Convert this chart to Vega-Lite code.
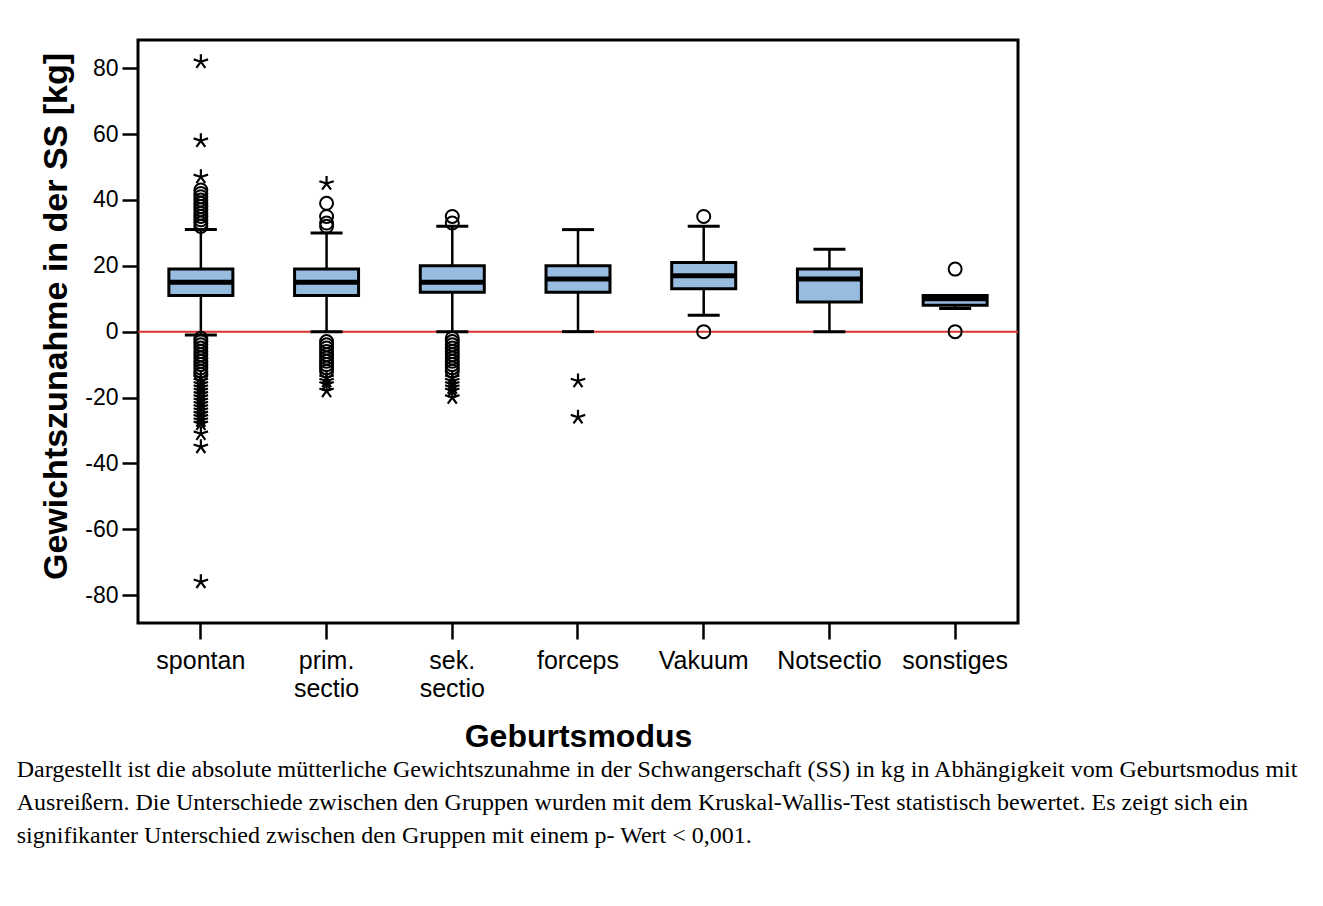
{
  "$schema": "https://vega.github.io/schema/vega-lite/v6.json",
  "autosize": {"type": "none"},
  "width": 880,
  "height": 583,
  "padding": {"left": 138, "top": 40, "right": 305, "bottom": 283},
  "background": "white",
  "config": {
    "view": {"stroke": "black", "strokeWidth": 3},
    "font": "Liberation Sans"
  },
  "title": {
    "text": [
      "Dargestellt ist die absolute mütterliche Gewichtszunahme in der Schwangerschaft (SS) in kg in Abhängigkeit vom Geburtsmodus mit",
      "Ausreißern. Die Unterschiede zwischen den Gruppen wurden mit dem Kruskal-Wallis-Test statistisch bewertet. Es zeigt sich ein",
      "signifikanter Unterschied zwischen den Gruppen mit einem p- Wert < 0,001."
    ],
    "orient": "bottom",
    "anchor": "start",
    "frame": "bounds",
    "font": "Liberation Serif",
    "fontSize": 24,
    "fontWeight": "normal",
    "color": "black",
    "lineHeight": 33,
    "offset": 6,
    "dx": -23
  },
  "datasets": {
    "boxes": [
      {"modus": "spontan", "lo": -1, "q1": 11, "median": 15, "q3": 19, "hi": 31},
      {"modus": "prim. sectio", "lo": 0, "q1": 11, "median": 15, "q3": 19, "hi": 30},
      {"modus": "sek. sectio", "lo": 0, "q1": 12, "median": 15, "q3": 20, "hi": 32},
      {"modus": "forceps", "lo": 0, "q1": 12, "median": 16, "q3": 20, "hi": 31},
      {"modus": "Vakuum", "lo": 5, "q1": 13, "median": 17, "q3": 21, "hi": 32},
      {"modus": "Notsectio", "lo": 0, "q1": 9, "median": 16, "q3": 19, "hi": 25},
      {"modus": "sonstiges", "lo": 7, "q1": 8, "median": 10, "q3": 11, "hi": 11}
    ],
    "outliers": [
      {"modus": "spontan", "value": 32, "kind": "circle"},
      {"modus": "spontan", "value": 33, "kind": "circle"},
      {"modus": "spontan", "value": 34, "kind": "circle"},
      {"modus": "spontan", "value": 35, "kind": "circle"},
      {"modus": "spontan", "value": 36, "kind": "circle"},
      {"modus": "spontan", "value": 37, "kind": "circle"},
      {"modus": "spontan", "value": 38, "kind": "circle"},
      {"modus": "spontan", "value": 39, "kind": "circle"},
      {"modus": "spontan", "value": 40, "kind": "circle"},
      {"modus": "spontan", "value": 41, "kind": "circle"},
      {"modus": "spontan", "value": 42, "kind": "circle"},
      {"modus": "spontan", "value": 43, "kind": "circle"},
      {"modus": "spontan", "value": 47, "kind": "star"},
      {"modus": "spontan", "value": 58, "kind": "star"},
      {"modus": "spontan", "value": 82, "kind": "star"},
      {"modus": "spontan", "value": -2, "kind": "circle"},
      {"modus": "spontan", "value": -3, "kind": "circle"},
      {"modus": "spontan", "value": -4, "kind": "circle"},
      {"modus": "spontan", "value": -5, "kind": "circle"},
      {"modus": "spontan", "value": -6, "kind": "circle"},
      {"modus": "spontan", "value": -7, "kind": "circle"},
      {"modus": "spontan", "value": -8, "kind": "circle"},
      {"modus": "spontan", "value": -9, "kind": "circle"},
      {"modus": "spontan", "value": -10, "kind": "circle"},
      {"modus": "spontan", "value": -11, "kind": "circle"},
      {"modus": "spontan", "value": -12, "kind": "circle"},
      {"modus": "spontan", "value": -13, "kind": "circle"},
      {"modus": "spontan", "value": -14, "kind": "star"},
      {"modus": "spontan", "value": -15, "kind": "star"},
      {"modus": "spontan", "value": -16, "kind": "star"},
      {"modus": "spontan", "value": -17, "kind": "star"},
      {"modus": "spontan", "value": -18, "kind": "star"},
      {"modus": "spontan", "value": -19, "kind": "star"},
      {"modus": "spontan", "value": -20, "kind": "star"},
      {"modus": "spontan", "value": -21, "kind": "star"},
      {"modus": "spontan", "value": -22, "kind": "star"},
      {"modus": "spontan", "value": -23, "kind": "star"},
      {"modus": "spontan", "value": -24, "kind": "star"},
      {"modus": "spontan", "value": -25, "kind": "star"},
      {"modus": "spontan", "value": -26, "kind": "star"},
      {"modus": "spontan", "value": -27, "kind": "star"},
      {"modus": "spontan", "value": -28, "kind": "star"},
      {"modus": "spontan", "value": -31, "kind": "star"},
      {"modus": "spontan", "value": -35, "kind": "star"},
      {"modus": "spontan", "value": -76, "kind": "star"},
      {"modus": "prim. sectio", "value": 32, "kind": "circle"},
      {"modus": "prim. sectio", "value": 33, "kind": "circle"},
      {"modus": "prim. sectio", "value": 35, "kind": "circle"},
      {"modus": "prim. sectio", "value": 39, "kind": "circle"},
      {"modus": "prim. sectio", "value": 45, "kind": "star"},
      {"modus": "prim. sectio", "value": -3, "kind": "circle"},
      {"modus": "prim. sectio", "value": -4, "kind": "circle"},
      {"modus": "prim. sectio", "value": -5, "kind": "circle"},
      {"modus": "prim. sectio", "value": -6, "kind": "circle"},
      {"modus": "prim. sectio", "value": -7, "kind": "circle"},
      {"modus": "prim. sectio", "value": -8, "kind": "circle"},
      {"modus": "prim. sectio", "value": -9, "kind": "circle"},
      {"modus": "prim. sectio", "value": -10, "kind": "circle"},
      {"modus": "prim. sectio", "value": -11, "kind": "circle"},
      {"modus": "prim. sectio", "value": -12, "kind": "circle"},
      {"modus": "prim. sectio", "value": -14, "kind": "star"},
      {"modus": "prim. sectio", "value": -15, "kind": "star"},
      {"modus": "prim. sectio", "value": -16, "kind": "star"},
      {"modus": "prim. sectio", "value": -18, "kind": "star"},
      {"modus": "sek. sectio", "value": 33, "kind": "circle"},
      {"modus": "sek. sectio", "value": 35, "kind": "circle"},
      {"modus": "sek. sectio", "value": -2, "kind": "circle"},
      {"modus": "sek. sectio", "value": -3, "kind": "circle"},
      {"modus": "sek. sectio", "value": -4, "kind": "circle"},
      {"modus": "sek. sectio", "value": -5, "kind": "circle"},
      {"modus": "sek. sectio", "value": -6, "kind": "circle"},
      {"modus": "sek. sectio", "value": -7, "kind": "circle"},
      {"modus": "sek. sectio", "value": -8, "kind": "circle"},
      {"modus": "sek. sectio", "value": -9, "kind": "circle"},
      {"modus": "sek. sectio", "value": -10, "kind": "circle"},
      {"modus": "sek. sectio", "value": -11, "kind": "circle"},
      {"modus": "sek. sectio", "value": -12, "kind": "circle"},
      {"modus": "sek. sectio", "value": -14, "kind": "star"},
      {"modus": "sek. sectio", "value": -15, "kind": "star"},
      {"modus": "sek. sectio", "value": -16, "kind": "star"},
      {"modus": "sek. sectio", "value": -17, "kind": "star"},
      {"modus": "sek. sectio", "value": -18, "kind": "star"},
      {"modus": "sek. sectio", "value": -20, "kind": "star"},
      {"modus": "forceps", "value": -15, "kind": "star"},
      {"modus": "forceps", "value": -26, "kind": "star"},
      {"modus": "Vakuum", "value": 35, "kind": "circle"},
      {"modus": "Vakuum", "value": 0, "kind": "circle"},
      {"modus": "sonstiges", "value": 19, "kind": "circle"},
      {"modus": "sonstiges", "value": 0, "kind": "circle"}
    ]
  },
  "layer": [
    {
      "data": {"values": [{"ref": 0}]},
      "mark": {"type": "rule", "color": "#d9322e", "strokeWidth": 2},
      "encoding": {
        "y": {
          "field": "ref",
          "type": "quantitative",
          "scale": {"domain": [-88.5, 88.6], "nice": false, "zero": false},
          "axis": {
            "title": "Gewichtszunahme in der SS [kg]",
            "titleFont": "Liberation Sans",
            "titleFontSize": 34,
            "titleFontWeight": "bold",
            "titleColor": "black",
            "titlePadding": 11,
            "titleY": 276,
            "values": [-80, -70, -60, -50, -40, -30, -20, -10, 0, 10, 20, 30, 40, 50, 60, 70, 80],
            "labelExpr": "datum.value % 20 === 0 ? toString(datum.value) : ''",
            "labelFont": "Liberation Sans",
            "labelFontSize": 23,
            "labelColor": "black",
            "labelPadding": 4,
            "tickColor": "black",
            "tickWidth": 2.5,
            "tickSize": {"condition": {"test": "datum.value % 20 === 0", "value": 16}, "value": 11},
            "domain": false,
            "grid": false
          }
        }
      }
    },
    {
      "data": {"name": "boxes"},
      "mark": {"type": "rule", "color": "black", "strokeWidth": 2.5},
      "encoding": {
        "x": {
          "field": "modus",
          "type": "nominal",
          "sort": ["spontan", "prim. sectio", "sek. sectio", "forceps", "Vakuum", "Notsectio", "sonstiges"],
          "scale": {"type": "band", "paddingInner": 0, "paddingOuter": 0},
          "axis": {
            "title": "Geburtsmodus",
            "titleFont": "Liberation Sans",
            "titleFontSize": 32,
            "titleFontWeight": "bold",
            "titleColor": "black",
            "titlePadding": 20,
            "labelExpr": "split(datum.label, ' ')",
            "labelFont": "Liberation Sans",
            "labelFontSize": 25,
            "labelLineHeight": 28,
            "labelColor": "black",
            "labelAngle": 0,
            "labelPadding": 9,
            "tickColor": "black",
            "tickWidth": 2.5,
            "tickSize": 16,
            "domain": false,
            "grid": false
          }
        },
        "y": {"field": "lo", "type": "quantitative"},
        "y2": {"field": "hi"}
      }
    },
    {
      "data": {"name": "boxes"},
      "mark": {"type": "tick", "color": "black", "opacity": 1, "thickness": 3, "size": 32, "orient": "horizontal"},
      "encoding": {
        "x": {"field": "modus", "type": "nominal", "sort": ["spontan", "prim. sectio", "sek. sectio", "forceps", "Vakuum", "Notsectio", "sonstiges"]},
        "y": {"field": "lo", "type": "quantitative"}
      }
    },
    {
      "data": {"name": "boxes"},
      "mark": {"type": "tick", "color": "black", "opacity": 1, "thickness": 3, "size": 32, "orient": "horizontal"},
      "encoding": {
        "x": {"field": "modus", "type": "nominal", "sort": ["spontan", "prim. sectio", "sek. sectio", "forceps", "Vakuum", "Notsectio", "sonstiges"]},
        "y": {"field": "hi", "type": "quantitative"}
      }
    },
    {
      "data": {"name": "boxes"},
      "mark": {"type": "bar", "size": 64, "fill": "#96bcdf", "stroke": "black", "strokeWidth": 3, "opacity": 1},
      "encoding": {
        "x": {"field": "modus", "type": "nominal", "sort": ["spontan", "prim. sectio", "sek. sectio", "forceps", "Vakuum", "Notsectio", "sonstiges"]},
        "y": {"field": "q1", "type": "quantitative"},
        "y2": {"field": "q3"}
      }
    },
    {
      "data": {"name": "boxes"},
      "mark": {"type": "tick", "color": "black", "opacity": 1, "thickness": 5, "size": 64, "orient": "horizontal"},
      "encoding": {
        "x": {"field": "modus", "type": "nominal", "sort": ["spontan", "prim. sectio", "sek. sectio", "forceps", "Vakuum", "Notsectio", "sonstiges"]},
        "y": {"field": "median", "type": "quantitative"}
      }
    },
    {
      "data": {"name": "outliers"},
      "transform": [{"filter": "datum.kind === 'circle'"}],
      "mark": {"type": "point", "shape": "circle", "size": 169, "filled": false, "stroke": "black", "strokeWidth": 2, "opacity": 1},
      "encoding": {
        "x": {"field": "modus", "type": "nominal", "sort": ["spontan", "prim. sectio", "sek. sectio", "forceps", "Vakuum", "Notsectio", "sonstiges"]},
        "y": {"field": "value", "type": "quantitative"}
      }
    },
    {
      "data": {"name": "outliers"},
      "transform": [{"filter": "datum.kind === 'star'"}],
      "mark": {
        "type": "point",
        "shape": "M0,0L0,-1M0,0L0.951,-0.309M0,0L0.588,0.809M0,0L-0.588,0.809M0,0L-0.951,-0.309",
        "size": 230,
        "filled": false,
        "stroke": "black",
        "strokeWidth": 2.2,
        "opacity": 1
      },
      "encoding": {
        "x": {"field": "modus", "type": "nominal", "sort": ["spontan", "prim. sectio", "sek. sectio", "forceps", "Vakuum", "Notsectio", "sonstiges"]},
        "y": {"field": "value", "type": "quantitative"}
      }
    }
  ]
}
